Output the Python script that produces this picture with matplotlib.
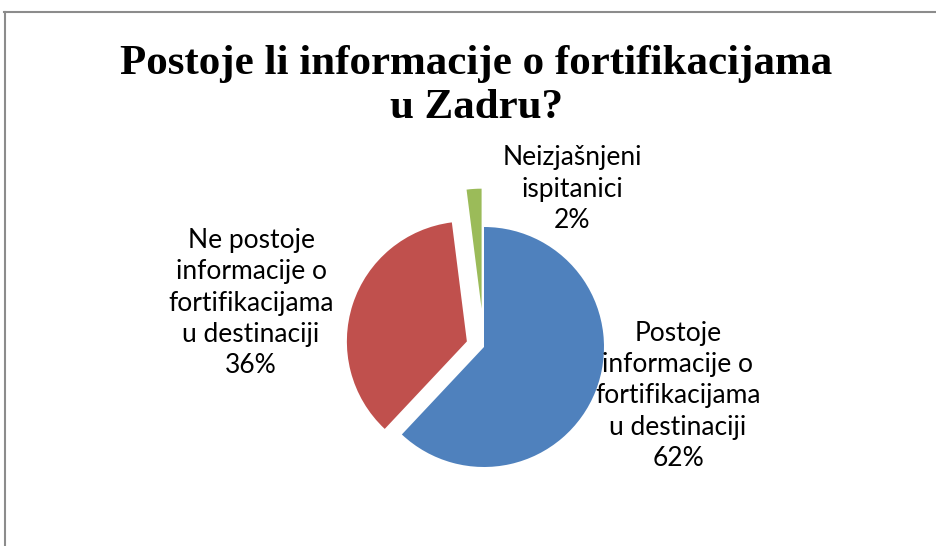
import matplotlib
matplotlib.use("Agg")
import matplotlib.pyplot as plt
from matplotlib.lines import Line2D

# Data
categories = ["Postoje\ninformacije o\nfortifikacijama\nu destinaciji",
              "Ne postoje\ninformacije o\nfortifikacijama\nu destinaciji",
              "Neizjašnjeni\nispitanici"]
values = [62, 36, 2]
colors = ["#4F81BD", "#C0504D", "#9BBB59"]
explode_frac = [0.0, 0.15, 0.32]
title = "Postoje li informacije o fortifikacijama\nu Zadru?"

W, H = 936, 546
fig = plt.figure(figsize=(W / 100, H / 100), dpi=100)
ax = fig.add_axes([0, 0, 1, 1])

cx, cy, r = 484, H - 347, 120
explode = [e * r for e in explode_frac]
wedges, _ = ax.pie(values, colors=colors, explode=explode, startangle=90,
                   counterclock=False, radius=r, center=(cx, cy),
                   wedgeprops=dict(linewidth=0), frame=True)
ax.set_xlim(0, W)
ax.set_ylim(0, H)
ax.set_aspect("equal")
ax.axis("off")

label_font = dict(family=["Lato", "DejaVu Sans"], fontsize=19, ha="center",
                  va="center", linespacing=1.32, color="black")
label_pos = [(678, H - 396), (251, H - 303), (572, H - 189)]
for cat, v, (lx, ly) in zip(categories, values, label_pos):
    ax.text(lx, ly, f"{cat}\n{v}%", **label_font)

ax.text(476, H - 86, title, family=["Liberation Serif"], fontweight="bold",
        fontsize=31, ha="center", va="center", linespacing=1.18)

# chart border (top and left visible)
ax.add_line(Line2D([4, W], [H - 11.5, H - 11.5], color="#8c8c8c", lw=1.5))
ax.add_line(Line2D([4.5, 4.5], [0, H - 11.5], color="#8c8c8c", lw=1.5))

fig.savefig("out.png", dpi=100)
